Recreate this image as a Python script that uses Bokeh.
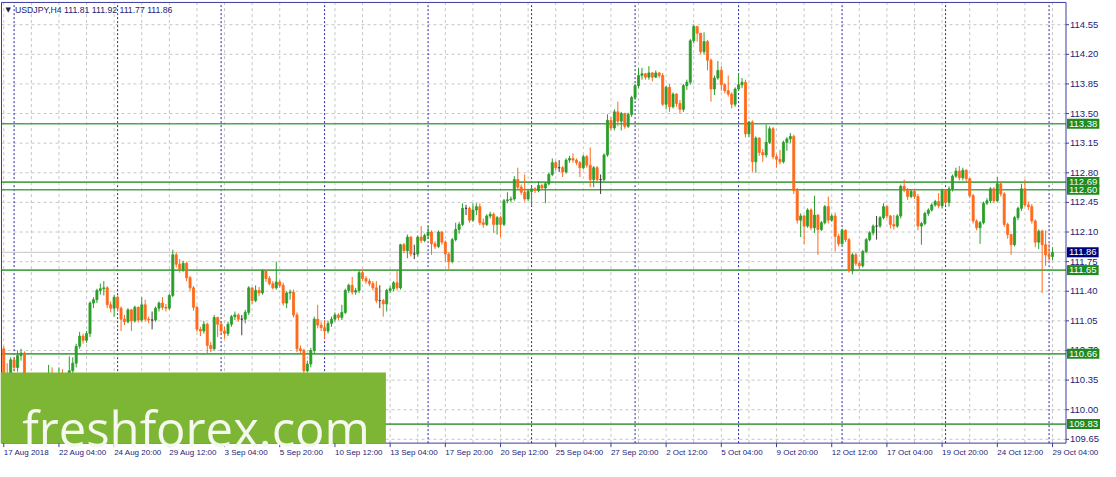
from bokeh.plotting import figure
from bokeh.models import Range1d, Label, LabelSet, ColumnDataSource, BoxAnnotation
from bokeh.core.properties import value
from bokeh.embed import file_html
from bokeh.resources import INLINE

symbol = "USDJPY,H4"
first_open = 110.72

close = [
    110.40, 110.32, 110.59, 110.50, 110.64, 110.67, 110.36, 110.28, 110.20, 110.25,
    110.15, 110.22, 110.30, 110.35, 110.32, 110.25, 110.33, 110.28, 110.30, 110.46,
    110.55, 110.75, 110.87, 110.82, 110.90, 111.26, 111.30, 111.41, 111.43, 111.44,
    111.24, 111.20, 111.33, 111.20, 111.07, 111.04, 111.18, 111.05, 111.21, 111.06,
    111.24, 111.07, 111.06, 111.06, 111.20, 111.26, 111.21, 111.20, 111.35, 111.83,
    111.72, 111.66, 111.73, 111.56, 111.44, 111.21, 110.95, 110.93, 111.01, 110.76,
    110.72, 111.09, 111.01, 110.93, 110.90, 111.01, 111.10, 111.12, 111.07, 111.07,
    111.15, 111.44, 111.29, 111.41, 111.38, 111.64, 111.55, 111.49, 111.44, 111.51,
    111.47, 111.26, 111.38, 111.39, 111.12, 110.72, 110.70, 110.46, 110.54, 110.70,
    111.07, 111.00, 110.97, 110.93, 111.02, 111.07, 111.12, 111.09, 111.15, 111.41,
    111.47, 111.39, 111.41, 111.62, 111.55, 111.52, 111.49, 111.44, 111.29, 111.29,
    111.25, 111.41, 111.43, 111.50, 111.44, 111.95, 111.88, 112.04, 111.84, 111.84,
    112.04, 112.00, 112.06, 112.10, 111.96, 111.93, 112.10, 111.98, 111.84, 111.75,
    112.01, 112.13, 112.19, 112.38, 112.38, 112.24, 112.36, 112.40, 112.21, 112.19,
    112.29, 112.31, 112.19, 112.27, 112.19, 112.47, 112.48, 112.49, 112.72, 112.63,
    112.57, 112.49, 112.58, 112.61, 112.59, 112.65, 112.62, 112.67, 112.78, 112.92,
    112.86, 112.86, 112.81, 112.95, 112.97, 112.95, 112.92, 112.86, 112.99, 112.89,
    112.72, 112.86, 112.72, 112.72, 113.01, 113.42, 113.33, 113.52, 113.41, 113.50,
    113.35, 113.49, 113.69, 113.83, 113.95, 113.97, 113.93, 113.98, 113.93, 113.98,
    113.95, 113.61, 113.81, 113.58, 113.73, 113.62, 113.55, 113.83, 113.87, 114.36,
    114.53, 114.45, 114.23, 114.35, 114.13, 113.79, 113.92, 114.01, 113.84, 113.77,
    113.73, 113.61, 113.79, 113.84, 113.87, 113.26, 113.40, 112.93, 113.21, 113.04,
    113.01, 113.16, 113.32, 112.99, 112.96, 112.93, 113.16, 113.20, 113.23, 112.59,
    112.24, 112.29, 112.17, 112.36, 112.15, 112.30, 112.13, 112.21, 112.40, 112.24,
    112.29, 112.05, 111.96, 112.12, 112.01, 111.64, 111.83, 111.73, 111.70, 111.87,
    112.01, 112.09, 112.17, 112.17, 112.27, 112.40, 112.29, 112.19, 112.17, 112.29,
    112.64, 112.60, 112.52, 112.58, 112.52, 112.17, 112.20, 112.32, 112.36, 112.42,
    112.46, 112.41, 112.59, 112.45, 112.61, 112.76, 112.82, 112.74, 112.83, 112.73,
    112.53, 112.23, 112.15, 112.21, 112.44, 112.47, 112.61, 112.47, 112.67, 112.55,
    112.19, 112.07, 111.95, 112.27, 112.38, 112.61, 112.42, 112.40, 112.23, 111.98,
    112.11, 111.95, 111.83, 111.81, 111.86,
]

high = [
    110.75, 110.55, 110.62, 110.62, 110.70, 110.72, 110.69, 110.40, 110.33, 110.30,
    110.28, 110.26, 110.34, 110.53, 110.50, 110.36, 110.50, 110.48, 110.36, 110.63,
    110.62, 110.78, 110.92, 110.90, 110.93, 111.28, 111.33, 111.43, 111.49, 111.52,
    111.46, 111.28, 111.36, 111.35, 111.22, 111.12, 111.20, 111.19, 111.23, 111.22,
    111.33, 111.30, 111.10, 111.16, 111.22, 111.28, 111.33, 111.25, 111.37, 111.89,
    111.86, 111.78, 111.76, 111.75, 111.58, 111.46, 111.23, 110.98, 111.05, 111.03,
    110.80, 111.12, 111.10, 111.05, 110.98, 111.04, 111.12, 111.16, 111.14, 111.12,
    111.18, 111.46, 111.44, 111.47, 111.45, 111.66, 111.65, 111.58, 111.52, 111.75,
    111.53, 111.50, 111.40, 111.42, 111.42, 111.15, 110.76, 110.72, 110.58, 110.73,
    111.10, 111.24, 111.04, 111.06, 111.05, 111.10, 111.15, 111.14, 111.24, 111.43,
    111.49, 111.57, 111.44, 111.64, 111.65, 111.58, 111.55, 111.52, 111.52, 111.47,
    111.31, 111.43, 111.46, 111.52, 111.64, 111.96, 111.97, 112.07, 112.05, 111.95,
    112.06, 112.17, 112.08, 112.17, 112.12, 111.99, 112.12, 112.11, 112.00, 111.86,
    112.03, 112.21, 112.22, 112.44, 112.42, 112.40, 112.44, 112.44, 112.44, 112.26,
    112.31, 112.34, 112.33, 112.29, 112.29, 112.49, 112.57, 112.52, 112.76, 112.86,
    112.66, 112.78, 112.60, 112.64, 112.63, 112.70, 112.67, 112.69, 112.80, 112.97,
    112.94, 112.95, 112.88, 112.97, 113.00, 113.03, 112.97, 112.94, 113.01, 113.01,
    113.10, 112.88, 112.88, 112.78, 113.03, 113.49, 113.46, 113.55, 113.64, 113.52,
    113.51, 113.51, 113.71, 113.85, 114.04, 114.04, 113.98, 114.06, 113.99, 114.01,
    113.99, 113.98, 113.83, 113.85, 113.75, 113.74, 113.66, 113.85, 113.90, 114.38,
    114.55, 114.52, 114.44, 114.46, 114.37, 114.15, 113.95, 114.12, 114.06, 113.86,
    113.95, 113.75, 113.81, 113.98, 113.92, 113.90, 113.41, 113.42, 113.23, 113.22,
    113.08, 113.37, 113.35, 113.34, 113.02, 113.07, 113.18, 113.22, 113.27, 113.25,
    112.62, 112.32, 112.30, 112.38, 112.38, 112.53, 112.31, 112.23, 112.42, 112.52,
    112.31, 112.33, 112.08, 112.14, 112.13, 112.03, 111.85, 111.85, 111.75, 111.89,
    112.03, 112.11, 112.19, 112.29, 112.29, 112.44, 112.42, 112.30, 112.30, 112.31,
    112.66, 112.72, 112.62, 112.60, 112.60, 112.55, 112.22, 112.34, 112.38, 112.44,
    112.48, 112.56, 112.61, 112.60, 112.64, 112.78, 112.86, 112.88, 112.86, 112.84,
    112.74, 112.55, 112.25, 112.23, 112.46, 112.50, 112.63, 112.63, 112.75, 112.69,
    112.57, 112.21, 112.08, 112.29, 112.40, 112.67, 112.72, 112.46, 112.43, 112.25,
    112.13, 112.13, 112.12, 111.96, 111.92,
]

low = [
    110.35, 110.27, 110.28, 110.46, 110.45, 110.58, 110.32, 110.22, 110.15, 110.12,
    110.08, 110.10, 110.18, 110.26, 110.27, 110.20, 110.22, 110.24, 110.20, 110.28,
    110.42, 110.50, 110.72, 110.78, 110.79, 110.86, 111.20, 111.26, 111.36, 111.35,
    111.20, 111.15, 111.10, 111.16, 110.93, 111.00, 111.02, 110.93, 111.03, 111.03,
    111.04, 111.04, 111.02, 110.95, 111.04, 111.16, 111.18, 111.16, 111.18, 111.33,
    111.68, 111.62, 111.63, 111.52, 111.40, 111.17, 110.92, 110.87, 110.90, 110.67,
    110.68, 110.70, 110.86, 110.89, 110.84, 110.87, 110.98, 111.06, 111.04, 110.88,
    111.02, 111.12, 111.25, 111.27, 111.34, 111.36, 111.51, 111.47, 111.42, 111.42,
    111.44, 111.23, 111.20, 111.30, 111.09, 110.68, 110.66, 110.40, 110.44, 110.50,
    110.66, 110.96, 110.93, 110.84, 110.90, 110.98, 111.04, 111.06, 111.06, 111.13,
    111.38, 111.36, 111.36, 111.38, 111.52, 111.49, 111.46, 111.41, 111.26, 111.20,
    111.10, 111.16, 111.38, 111.40, 111.41, 111.42, 111.85, 111.79, 111.81, 111.78,
    111.81, 111.97, 111.98, 112.02, 111.83, 111.90, 111.91, 111.95, 111.75, 111.66,
    111.73, 111.99, 112.08, 112.17, 112.30, 112.21, 112.22, 112.30, 112.18, 112.15,
    112.17, 112.26, 112.09, 112.07, 112.04, 112.17, 112.44, 112.45, 112.47, 112.60,
    112.54, 112.46, 112.47, 112.41, 112.56, 112.57, 112.60, 112.44, 112.65, 112.76,
    112.83, 112.81, 112.75, 112.79, 112.92, 112.92, 112.89, 112.75, 112.84, 112.86,
    112.63, 112.63, 112.69, 112.55, 112.70, 112.99, 113.30, 113.30, 113.35, 113.30,
    113.32, 113.33, 113.46, 113.66, 113.80, 113.90, 113.90, 113.90, 113.88, 113.92,
    113.92, 113.59, 113.55, 113.52, 113.56, 113.58, 113.50, 113.52, 113.78, 113.84,
    114.33, 114.35, 114.20, 114.20, 114.01, 113.64, 113.72, 113.90, 113.77, 113.74,
    113.70, 113.56, 113.58, 113.77, 113.80, 113.22, 113.22, 112.81, 112.80, 113.00,
    112.93, 112.98, 113.14, 112.96, 112.86, 112.90, 112.91, 113.06, 113.15, 112.55,
    112.20, 112.04, 111.96, 112.15, 112.12, 112.09, 111.83, 112.11, 112.19, 112.20,
    112.22, 111.87, 111.93, 111.95, 111.98, 111.62, 111.60, 111.70, 111.66, 111.68,
    111.85, 111.99, 112.06, 112.01, 112.15, 112.25, 112.26, 112.14, 112.13, 112.15,
    112.26, 112.57, 112.48, 112.50, 112.49, 112.12, 111.95, 112.18, 112.29, 112.34,
    112.40, 112.38, 112.38, 112.42, 112.40, 112.58, 112.74, 112.71, 112.71, 112.70,
    112.50, 112.20, 112.12, 111.96, 112.19, 112.42, 112.44, 112.44, 112.45, 112.52,
    112.16, 112.02, 111.83, 111.93, 112.24, 112.35, 112.40, 112.36, 112.20, 111.92,
    111.90, 111.38, 111.70, 111.76, 111.77,
]

time_labels = ["17 Aug 2018", "22 Aug 04:00", "24 Aug 20:00", "29 Aug 12:00", "3 Sep 04:00",
               "5 Sep 20:00", "10 Sep 12:00", "13 Sep 04:00", "17 Sep 20:00", "20 Sep 12:00",
               "25 Sep 04:00", "27 Sep 20:00", "2 Oct 12:00", "5 Oct 04:00", "9 Oct 20:00",
               "12 Oct 12:00", "17 Oct 04:00", "19 Oct 20:00", "24 Oct 12:00", "29 Oct 04:00"]
label_bars = [0, 16, 32, 48, 64, 80, 96, 112, 128, 144, 160, 176, 192, 208, 224, 240, 256, 272, 288, 304]
grid_bars = list(range(0, 312, 8))
separator_bars = [3, 33, 63, 93, 123, 153, 183, 213, 243, 273, 303]
price_ticks = [109.65, 110.00, 110.35, 110.70, 111.05, 111.40, 111.75, 112.10, 112.45,
               112.80, 113.15, 113.50, 113.85, 114.20, 114.55]
levels = [113.38, 112.69, 112.60, 111.65, 110.66, 109.83]
watermark = "freshforex.com"

# ---------------------------------------------------------------- styles / layout
BULL, BEAR, DOJI = "#2a9e2a", "#ff6a1a", "#3a3a3a"
FG = "#1c1c78"
FRAME = "#3c3ca0"
LEVEL = "#4ea64e"
LEVEL_BOX = "#1f8a1f"
FONT = "Liberation Sans"

W, H = 1100, 461
XL, XR = -0.943, 317.91          # whole canvas, in bar units
YB, YT = 109.388, 114.836        # whole canvas, in price units
CX0, CX1 = -0.657, 307.91        # chart area (inside the frame)
CY0, CY1 = 109.605, 114.813
PX_X = W / (XR - XL)             # pixels per bar
PX_Y = H / (YT - YB)             # pixels per price unit

n = len(close)
bars = list(range(n))
opens = [first_open] + close[:-1]
colors = []
for o, c in zip(opens, close):
    d = round(c - o, 4)
    colors.append(BULL if d > 0 else (BEAR if d < 0 else DOJI))

src = ColumnDataSource(dict(
    x=bars,
    top=[max(o, c) for o, c in zip(opens, close)],
    bottom=[min(o, c) for o, c in zip(opens, close)],
    hi=[max(h, o, c) for h, o, c in zip(high, opens, close)],
    lo=[min(l, o, c) for l, o, c in zip(low, opens, close)],
    color=colors,
))

p = figure(width=W, height=H, x_range=Range1d(XL, XR), y_range=Range1d(YB, YT),
           x_axis_location=None, y_axis_location=None,
           output_backend="svg", toolbar_location=None,
           min_border_left=0, min_border_right=0, min_border_top=0, min_border_bottom=0)
p.background_fill_color = "white"
p.border_fill_color = "white"
p.outline_line_color = None
p.grid.visible = False

# grid (dashed grey) inside the chart area
p.segment(x0=grid_bars, y0=[CY0] * len(grid_bars), x1=grid_bars, y1=[CY1] * len(grid_bars),
          line_color="#c6c6c6", line_dash="3 3", line_width=1)
p.segment(x0=[CX0] * len(price_ticks), y0=price_ticks, x1=[CX1] * len(price_ticks), y1=price_ticks,
          line_color="#c6c6c6", line_dash="3 3", line_width=1)

# period separators (blue dotted)
p.segment(x0=separator_bars, y0=[CY0] * len(separator_bars), x1=separator_bars,
          y1=[CY1] * len(separator_bars), line_color="#2424a8", line_dash="2 2", line_width=1)

# horizontal levels
p.segment(x0=[CX0] * len(levels), y0=levels, x1=[CX1] * len(levels), y1=levels,
          line_color=LEVEL, line_width=1.6)
# bid line
p.segment(x0=[CX0], y0=[close[-1]], x1=[CX1], y1=[close[-1]], line_color="#c4c4c4", line_width=1)

# candles
p.segment(x0="x", y0="lo", x1="x", y1="hi", line_color="color", line_width=1, source=src)
p.vbar(x="x", width=0.6, top="top", bottom="bottom", fill_color="color", line_color="color",
       line_width=0.8, source=src)

# frame of the chart area
p.quad(left=[CX0], right=[CX1], bottom=[CY0], top=[CY1], fill_color=None,
       line_color=FRAME, line_width=1)

# price scale: tick marks and labels
p.segment(x0=[CX1] * len(price_ticks), y0=price_ticks, x1=[CX1 + 3 / PX_X] * len(price_ticks),
          y1=price_ticks, line_color=FRAME, line_width=1)
pl_src = ColumnDataSource(dict(y=price_ticks, text=[f"{t:.2f}" for t in price_ticks]))
p.add_layout(LabelSet(x=CX1, y="y", x_offset=4, text="text", source=pl_src,
                      text_align="left", text_baseline="middle", text_font=value(FONT),
                      text_font_size=value("9.5px"), text_color=value(FG)))

# time scale: tick marks and labels (left aligned at the tick)
p.segment(x0=label_bars, y0=[CY0] * len(label_bars), x1=label_bars,
          y1=[CY0 - 4 / PX_Y] * len(label_bars), line_color=FRAME, line_width=1)
tl_src = ColumnDataSource(dict(x=label_bars, text=time_labels))
p.add_layout(LabelSet(x="x", y=6.5, y_units="screen", text="text", source=tl_src,
                      text_align="left", text_baseline="alphabetic", text_font=value(FONT),
                      text_font_size=value("8px"), text_color=value(FG)))

# level boxes on the price scale
for lv in levels:
    p.add_layout(Label(x=CX1, y=lv, x_offset=1, text=f"{lv:.2f}", text_align="left",
                       text_baseline="middle", text_font=FONT, text_font_size="9.5px",
                       text_color="white", background_fill_color=LEVEL_BOX, padding=2))
p.add_layout(Label(x=CX1, y=close[-1], x_offset=1, text=f"{close[-1]:.2f}", text_align="left",
                   text_baseline="middle", text_font=FONT, text_font_size="9.5px",
                   text_color="white", background_fill_color="#00007a", padding=2))

# watermark
p.add_layout(BoxAnnotation(left=XL, right=XL + 391 / 3.5, bottom=CY0, top=CY1 - 383 / 87.55,
                           fill_color="#7db534", fill_alpha=1, line_alpha=0))
p.add_layout(Label(x=21.7, y=33.8, x_units="screen", y_units="screen", text=watermark,
                   text_font="Open Sans", text_font_size="49px", text_color="#f4f8ee",
                   text_baseline="alphabetic"))

# header
header = f"{symbol}  {opens[-1]:.2f} {high[-1]:.2f} {low[-1]:.2f} {close[-1]:.2f}"
p.add_layout(Label(x=5, y=452, x_units="screen", y_units="screen", text="\u25bc",
                   text_font="DejaVu Sans", text_font_size="7px", text_color="#202050",
                   text_baseline="middle"))
p.add_layout(Label(x=14.5, y=452, x_units="screen", y_units="screen", text=header,
                   text_font=FONT, text_font_size="8.7px", text_color=FG,
                   text_baseline="middle"))

open("out.html", "w").write(file_html(p, INLINE))
